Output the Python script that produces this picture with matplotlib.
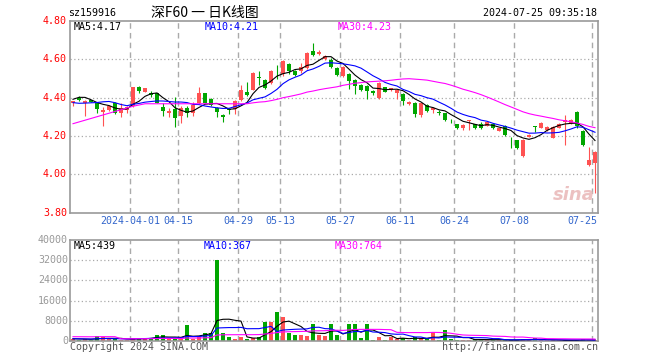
import matplotlib
matplotlib.use("Agg")
import matplotlib.pyplot as plt
import numpy as np

# ---------------- data ----------------
opens = [4.374, 4.400, 4.374, 4.388, 4.372, 4.327, 4.336, 4.372, 4.322, 4.336,
         4.355, 4.456, 4.431, 4.427, 4.424, 4.352, 4.318, 4.340, 4.304, 4.345,
         4.320, 4.371, 4.423, 4.393, 4.345, 4.312, 4.342, 4.341, 4.390, 4.432,
         4.442, 4.506, 4.491, 4.477, 4.547, 4.524, 4.577, 4.538, 4.538, 4.555,
         4.645, 4.628, 4.600, 4.598, 4.553, 4.515, 4.524, 4.492, 4.466, 4.461,
         4.436, 4.397, 4.454, 4.440, 4.423, 4.418, 4.366, 4.372, 4.310, 4.362,
         4.336, 4.326, 4.318, 4.280, 4.261, 4.241, 4.280, 4.261, 4.262, 4.254,
         4.262, 4.228, 4.254, 4.192, 4.178, 4.098, 4.196, 4.250, 4.243, 4.230,
         4.192, 4.244, 4.275, 4.268, 4.327, 4.228, 4.050, 4.060]
highs = [4.385, 4.408, 4.386, 4.390, 4.378, 4.352, 4.362, 4.375, 4.372, 4.358,
         4.458, 4.462, 4.452, 4.436, 4.426, 4.372, 4.345, 4.403, 4.356, 4.356,
         4.375, 4.457, 4.425, 4.398, 4.350, 4.315, 4.348, 4.386, 4.466, 4.483,
         4.535, 4.538, 4.495, 4.545, 4.572, 4.598, 4.580, 4.545, 4.580, 4.636,
         4.685, 4.648, 4.625, 4.605, 4.560, 4.565, 4.530, 4.497, 4.470, 4.465,
         4.440, 4.480, 4.458, 4.452, 4.444, 4.423, 4.385, 4.375, 4.374, 4.365,
         4.350, 4.335, 4.320, 4.290, 4.265, 4.263, 4.286, 4.265, 4.275, 4.274,
         4.265, 4.242, 4.258, 4.193, 4.180, 4.185, 4.208, 4.252, 4.272, 4.250,
         4.252, 4.268, 4.310, 4.288, 4.330, 4.232, 4.141, 4.120]
lows = [4.355, 4.382, 4.305, 4.375, 4.318, 4.252, 4.330, 4.315, 4.298, 4.320,
        4.352, 4.426, 4.430, 4.405, 4.370, 4.305, 4.298, 4.245, 4.266, 4.300,
        4.305, 4.365, 4.372, 4.355, 4.300, 4.275, 4.315, 4.315, 4.385, 4.410,
        4.440, 4.468, 4.443, 4.470, 4.500, 4.515, 4.525, 4.512, 4.530, 4.550,
        4.616, 4.622, 4.595, 4.555, 4.512, 4.510, 4.444, 4.418, 4.435, 4.392,
        4.415, 4.392, 4.428, 4.435, 4.395, 4.362, 4.362, 4.300, 4.300, 4.325,
        4.322, 4.312, 4.280, 4.268, 4.235, 4.232, 4.232, 4.237, 4.236, 4.250,
        4.235, 4.225, 4.200, 4.140, 4.130, 4.090, 4.194, 4.222, 4.240, 4.225,
        4.188, 4.240, 4.153, 4.265, 4.240, 4.150, 4.045, 3.901]
closes = [4.383, 4.389, 4.383, 4.378, 4.341, 4.336, 4.356, 4.320, 4.345, 4.350,
          4.457, 4.434, 4.449, 4.412, 4.372, 4.331, 4.331, 4.292, 4.345, 4.322,
          4.364, 4.423, 4.374, 4.362, 4.327, 4.298, 4.338, 4.384, 4.440, 4.413,
          4.529, 4.502, 4.448, 4.541, 4.543, 4.592, 4.538, 4.520, 4.558, 4.633,
          4.624, 4.638, 4.617, 4.558, 4.518, 4.562, 4.489, 4.462, 4.440, 4.436,
          4.423, 4.478, 4.431, 4.449, 4.440, 4.384, 4.380, 4.313, 4.371, 4.330,
          4.348, 4.322, 4.284, 4.276, 4.243, 4.259, 4.284, 4.243, 4.240, 4.271,
          4.240, 4.240, 4.205, 4.188, 4.138, 4.178, 4.205, 4.247, 4.268, 4.248,
          4.249, 4.265, 4.284, 4.285, 4.252, 4.153, 4.075, 4.118]
volumes = [900, 500, 600, 500, 1800, 1700, 700, 600, 500, 500,
           1300, 1300, 800, 1300, 2400, 2400, 900, 800, 700, 6200,
           800, 1500, 3000, 3000, 32200, 3300, 1700, 800, 1400, 900,
           1000, 1600, 7500, 7500, 11500, 9500, 3300, 2200, 2200, 1800,
           6700, 2300, 2000, 6700, 2300, 500, 6700, 6700, 1200, 6700,
           500, 1500, 500, 1500, 800, 1300, 500, 1500, 1000, 1000,
           3500, 500, 4500, 700, 500, 500, 400, 600, 900, 400,
           400, 400, 400, 400, 400, 900, 400, 1200, 300, 300,
           300, 300, 300, 300, 350, 900, 400, 245]
# closes / volumes of the 29 sessions before the window (implied by the MA lines)
prior_closes = [4.116, 4.110, 4.105, 4.068, 4.063, 4.083, 4.047, 4.072, 4.077, 4.184,
                4.239, 4.254, 4.412, 4.372, 4.331, 4.331, 4.292, 4.345, 4.322, 4.364,
                4.423, 4.374, 4.362, 4.327, 4.298, 4.338, 4.384, 4.440, 4.413]
prior_volumes = [900, 900, 900, 900, 900, 900, 900, 25000, 900, 900,
                 900, 900, 900, 900, 900, 900, 900, 900, 900, 900,
                 900, 900, 900, 900, 900, 900, 900, 900, 900]

tick_idx = [10, 18, 28, 35, 45, 55, 64, 74, 87]
tick_labels = ["2024-04-01", "04-15", "04-29", "05-13", "05-27",
               "06-11", "06-24", "07-08", "07-25"]
price_ticks = [4.80, 4.60, 4.40, 4.20, 4.00, 3.80]
vol_ticks = [40000, 32000, 24000, 16000, 8000, 0]
price_labels = ["MA5:4.17", "MA10:4.21", "MA30:4.23"]
vol_labels = ["MA5:439", "MA10:367", "MA30:764"]
ma_periods = [5, 10, 30]

# ---------------- styling ----------------
W, H = 660, 360
RED = "#FF5252"
GREEN = "#00A600"
MA_COLORS = ["#000000", "#0000FF", "#FF00FF"]
GRID = "#AAAAAA"
FRAME = "#999999"
MONO = "DejaVu Sans Mono"
FS = 7.2

fig = plt.figure(figsize=(W / 100, H / 100), dpi=100)
fig.patch.set_facecolor("white")


def px_axes(l, t, r, b):
    return fig.add_axes([l / W, 1 - b / H, (r - l) / W, (b - t) / H])


ax = px_axes(70, 21, 598, 212.7)
axv = px_axes(70, 240, 598, 341)

n = len(closes)
x = np.arange(n)
o = np.array(opens); c = np.array(closes); h = np.array(highs); lo = np.array(lows)
up = c >= o
colors = np.where(up, RED, GREEN)


def moving(prior, vals, p):
    full = np.array(list(prior) + list(vals), dtype=float)
    k = len(prior)
    return np.array([full[k + i - p + 1:k + i + 1].mean() for i in range(len(vals))])


for a in (ax, axv):
    a.set_xlim(-0.5, n - 0.5)
    for s in a.spines.values():
        s.set_color(FRAME)
        s.set_linewidth(1.2)
    a.set_xticks([])
    a.set_yticks([])
    for ti in tick_idx:
        a.axvline(ti - 0.5, color=GRID, lw=1.0, ls=(0, (4, 3)), zorder=0)

ax.set_ylim(3.80, 4.80)
axv.set_ylim(0, 40000)
for v in price_ticks[1:-1]:
    ax.axhline(v, color=GRID, lw=0.9, ls=(0, (1, 2)), zorder=0)
for v in vol_ticks[1:-1]:
    axv.axhline(v, color=GRID, lw=0.9, ls=(0, (1, 2)), zorder=0)

# candles
ax.vlines(x, lo, h, colors=colors, lw=0.8, zorder=2)
body = np.maximum(np.abs(c - o), 0.004)
ax.bar(x, body, bottom=np.minimum(o, c), width=0.75, color=colors, lw=0, zorder=3)

# price MAs
for p, col in zip(ma_periods, MA_COLORS):
    ax.plot(x, moving(prior_closes, closes, p), color=col, lw=0.8, zorder=4)

# volume
axv.bar(x, volumes, width=0.8, color=colors, lw=0, zorder=2)
for p, col in zip(ma_periods, MA_COLORS):
    axv.plot(x, moving(prior_volumes, volumes, p), color=col, lw=0.8, zorder=4)

# watermark
ax.text(0.955, 0.09, "sina", transform=ax.transAxes, fontsize=13, fontstyle="italic",
        fontweight="bold", color="#E9B7B7", alpha=0.85, ha="center", va="center",
        family="DejaVu Sans", zorder=1)


def ftext(xp, yp, s, **kw):
    kw.setdefault("fontsize", FS)
    kw.setdefault("family", MONO)
    fig.text(xp / W, 1 - yp / H, s, **kw)


# header
ftext(68, 13, "sz159916", ha="left", va="center", color="#000000")
ftext(205, 13, "深F60 一 日K线图", ha="center", va="center", color="#000000",
      family=["Noto Sans CJK SC", "DejaVu Sans"], fontsize=10)
ftext(597, 13, "2024-07-25 09:35:18", ha="right", va="center", color="#000000")

# MA labels
for xp, s, col in zip([74, 205, 338], price_labels, MA_COLORS):
    ftext(xp, 27, s, ha="left", va="center", color=col)
for xp, s, col in zip([74, 204, 335], vol_labels, MA_COLORS):
    ftext(xp, 246, s, ha="left", va="center", color=col)

# y tick labels
for v in price_ticks:
    yp = 21 + (4.80 - v) * 191.7
    ftext(67, yp, f"{v:.2f}", ha="right", va="center", color="#FF0000")
for v in vol_ticks:
    yp = 341 - v / 40000 * 101
    ftext(68, yp, f"{v}", ha="right", va="center", color="#999999")

# date labels
for ti, lab in zip(tick_idx, tick_labels):
    xp = 70 + 6 * ti
    if ti == n - 1:
        ftext(597, 221, lab, ha="right", va="center", color="#3366CC")
    else:
        ftext(xp, 221, lab, ha="center", va="center", color="#3366CC")

# footer
ftext(70, 347, "Copyright 2024 SINA.COM", ha="left", va="center", color="#555555")
ftext(598, 347, "http://finance.sina.com.cn", ha="right", va="center", color="#555555")

fig.savefig("out.png", dpi=100)
